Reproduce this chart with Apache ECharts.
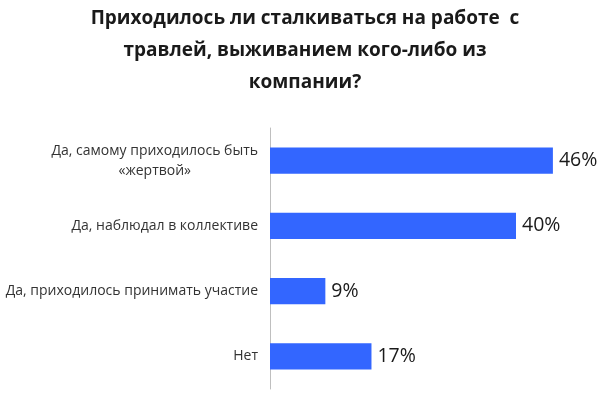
<!DOCTYPE html>
<html>
<head>
<meta charset="utf-8">
<script src="https://cdn.jsdelivr.net/npm/echarts@6/dist/echarts.min.js"></script>
<style>
html,body{margin:0;padding:0;background:#fff;}
#c{width:600px;height:393px;}
</style>
</head>
<body>
<div id="c"></div>
<script>
const titleText = 'Приходилось ли сталкиваться на работе  с\nтравлей, выживанием кого-либо из\nкомпании?';
const categories = [
  'Да, самому приходилось быть\n«жертвой»',
  'Да, наблюдал в коллективе',
  'Да, приходилось принимать участие',
  'Нет'
];
const values = [46, 40, 9, 16.5];
const valueLabels = ['46%', '40%', '9%', '17%'];

const chart = echarts.init(document.getElementById('c'), null, {renderer: 'canvas'});
chart.setOption({
  animation: false,
  backgroundColor: '#ffffff',
  title: {
    text: titleText,
    left: 300,
    top: -2,
    textAlign: 'center',
    textStyle: {
      fontFamily: 'Open Sans',
      fontWeight: 'bold',
      fontSize: 19,
      lineHeight: 32,
      color: '#1a1a1a'
    }
  },
  grid: {left: 270, top: 128, bottom: 4, width: 307.5, containLabel: false},
  xAxis: {
    type: 'value', min: 0, max: 50,
    show: false
  },
  yAxis: {
    type: 'category',
    data: categories,
    inverse: true,
    axisLine: {show: true, lineStyle: {color: '#bfbfbf', width: 1}},
    axisTick: {show: false},
    axisLabel: {
      margin: 12,
      color: '#333333',
      fontFamily: 'Open Sans',
      fontSize: 14,
      lineHeight: 20,
      formatter: function (v) {
        return v.split('\n').map(s => '{c|' + s + '}').join('\n');
      },
      rich: {
        c: {align: 'center', color: '#333333', fontFamily: 'Open Sans', fontSize: 14, lineHeight: 20}
      }
    }
  },
  series: [{
    type: 'bar',
    data: values,
    barCategoryGap: '60%',
    itemStyle: {color: '#3366ff'},
    label: {
      show: true,
      position: 'right',
      distance: 6,
      color: '#1a1a1a',
      fontFamily: 'Open Sans',
      fontSize: 19.5,
      formatter: function (p) { return valueLabels[p.dataIndex]; }
    }
  }]
});
</script>
</body>
</html>
